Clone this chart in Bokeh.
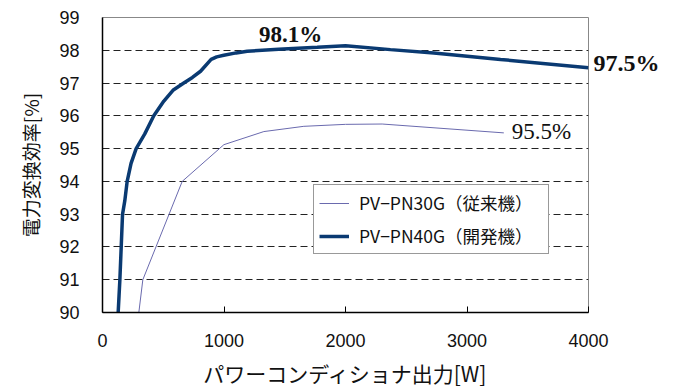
from bokeh.plotting import figure
from bokeh.models import Range1d, Label, Legend, LegendItem, FixedTicker, LinearAxis
from bokeh.embed import file_html
from bokeh.resources import INLINE

# PV-PN40G (new model)
new_w = [129, 136, 143, 154, 165, 184, 203, 235, 277, 348, 422, 505, 580, 669, 740, 807, 894, 940, 998, 1100, 1191, 1450, 1767, 2000, 2370, 2727, 3276, 4000]
new_eff = [90.0, 90.5, 91.0, 92.0, 93.0, 93.42, 94.0, 94.55, 95.0, 95.45, 96.0, 96.45, 96.78, 97.0, 97.17, 97.36, 97.72, 97.8, 97.85, 97.92, 97.97, 98.03, 98.09, 98.14, 98.02, 97.92, 97.72, 97.47]
# PV-PN30G (conventional)
old_w = [299, 332, 656, 999, 1328, 1657, 2000, 2302, 3303]
old_eff = [90.0, 91.0, 94.0, 95.12, 95.52, 95.68, 95.74, 95.75, 95.48]

x_ticks = [0, 1000, 2000, 3000, 4000]
y_ticks = [90, 91, 92, 93, 94, 95, 96, 97, 98, 99]
grid_y = [91, 92, 93, 94, 95, 96, 97, 98]

labels = ["PV−PN30G（従来機）", "PV−PN40G（開発機）"]
peak_text, peak_w, peak_eff = "98.1%", 2000, 98.1
end_text, end_eff = "97.5%", 97.5
old_text, old_end_w, old_end_eff = "95.5%", 3303, 95.5

p = figure(width=668, height=390, output_backend="svg", toolbar_location=None,
           x_range=Range1d(0, 4000), y_range=Range1d(90, 99),
           min_border_left=102, min_border_right=80, min_border_top=17, min_border_bottom=77)
p.background_fill_color = "white"
p.border_fill_color = "white"
p.outline_line_color = "#888888"
p.outline_line_width = 1

p.xgrid.grid_line_color = None
p.ygrid.ticker = FixedTicker(ticks=grid_y)
p.ygrid.grid_line_color = "#222222"
p.ygrid.grid_line_dash = "7 4"
p.ygrid.grid_line_width = 1

p.xaxis.ticker = FixedTicker(ticks=x_ticks)
p.yaxis.ticker = FixedTicker(ticks=y_ticks)
for ax in (p.xaxis, p.yaxis):
    ax.axis_line_color = "black"
    ax.axis_line_width = 1.5
    ax.major_tick_out = 0
    ax.minor_tick_line_color = None
    ax.major_label_text_font = "Liberation Sans"
    ax.major_label_text_font_size = "18px"
    ax.major_label_text_color = "#111111"
    ax.axis_label_text_font = "Noto Sans CJK JP"
    ax.axis_label_text_font_style = "normal"
    ax.axis_label_text_color = "#111111"
p.xaxis.axis_label_text_font_size = "21px"
p.yaxis.axis_label_text_font_size = "19px"
p.xaxis.major_tick_in = 6
p.xaxis.major_tick_line_color = "black"
p.yaxis.major_tick_in = 0
p.yaxis.major_tick_line_color = None
p.xaxis.major_label_standoff = 21
p.yaxis.major_label_standoff = 23
p.xaxis.axis_label = "パワーコンディショナ出力[W]"
p.yaxis.axis_label = "電力変換効率[%]"
p.xaxis.axis_label_standoff = 8
p.yaxis.axis_label_standoff = 12

# right axis used as the end-value label of the new model line
rax = LinearAxis(ticker=FixedTicker(ticks=[end_eff + 0.1]),
                 major_label_overrides={end_eff + 0.1: end_text})
rax.axis_line_color = None
rax.major_tick_line_color = None
rax.minor_tick_line_color = None
rax.major_tick_in = 0
rax.major_tick_out = 0
rax.major_label_standoff = 5
rax.major_label_text_font = "Liberation Serif"
rax.major_label_text_font_style = "bold"
rax.major_label_text_font_size = "24px"
rax.major_label_text_color = "#111111"
p.add_layout(rax, "right")

r_old = p.line(old_w, old_eff, line_color="#6a6aae", line_width=1)
r_new = p.line(new_w, new_eff, line_color="#0a3a72", line_width=3.5)

legend = Legend(items=[LegendItem(label=labels[0], renderers=[r_old]),
                       LegendItem(label=labels[1], renderers=[r_new])],
                location=(211, 58))
legend.label_text_font = "Noto Sans CJK JP"
legend.label_text_font_size = "17.5px"
legend.label_text_color = "#111111"
legend.border_line_color = "#333333"
legend.border_line_width = 1
legend.glyph_width = 30
legend.label_width = 184
legend.label_standoff = 10
legend.padding = 5
legend.spacing = 8
legend.margin = 0
legend.background_fill_alpha = 1
p.add_layout(legend, "center")

lab1 = Label(x=peak_w, y=peak_eff, text=peak_text, text_font="Liberation Serif",
             text_font_size="23px", text_font_style="bold", text_align="center",
             text_baseline="alphabetic", x_offset=-55, y_offset=13, text_color="#111111")
lab3 = Label(x=old_end_w, y=old_end_eff, text=old_text, text_font="Liberation Serif",
             text_font_size="23px", text_align="left",
             text_baseline="alphabetic", x_offset=8, y_offset=1, text_color="#111111")
p.add_layout(lab1)
p.add_layout(lab3)

open("out.html", "w").write(file_html(p, INLINE))
